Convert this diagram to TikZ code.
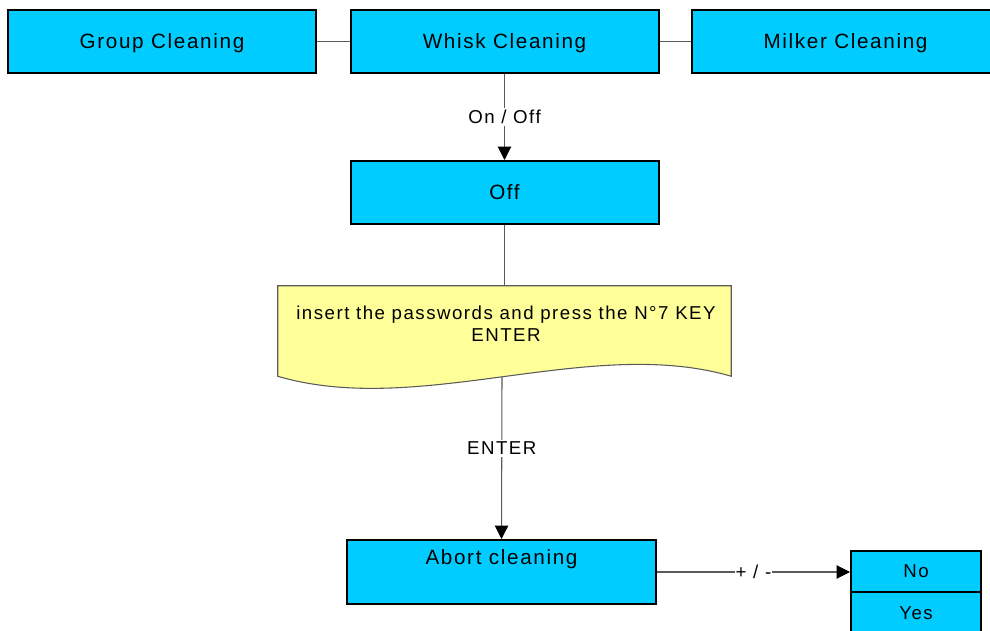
\documentclass[tikz,border=0pt]{standalone}
\usepackage{fontspec}
\setmainfont{Liberation Sans}[LetterSpace=8]
\usepackage{tikz}
\usetikzlibrary{arrows.meta}
\definecolor{ciano}{HTML}{00CCFF}
\definecolor{giallo}{HTML}{FFFF99}
\definecolor{linea}{HTML}{5A5A5A}

\tikzset{
  box/.style={draw=black, line width=1.5pt, fill=ciano, minimum width=231pt,
    minimum height=47.25pt, font=\fontsize{15.5}{18}\selectfont, inner sep=0pt,
    text depth=0pt},
  small/.style={draw=black, line width=1.5pt, fill=ciano, minimum width=97.5pt,
    minimum height=31pt, font=\fontsize{14}{16}\selectfont, inner sep=0pt,
    text depth=0pt},
  conn/.style={draw=linea, line width=0.8pt},
  arr/.style={conn, -{Triangle[length=10pt, width=10pt, color=black]}},
  lbl/.style={fill=white, inner sep=1.5pt, font=\fontsize{14}{16}\selectfont}
}

\begin{document}
\begin{tikzpicture}[x=0.75pt, y=-0.75pt]
  \useasboundingbox (0,0) rectangle (990,631);

  % Top row
  \node[box] (group)  at (162,41.5)   {Group Cleaning};
  \node[box] (whisk)  at (504.5,41.5) {Whisk Cleaning};
  \node[box] (milker) at (845.5,41.5) {Milker Cleaning};
  \draw[conn] (group.east) -- (whisk.west);
  \draw[conn] (whisk.east) -- (milker.west);

  % Off state
  \node[box] (off) at (504.5,192.5) {Off};
  \draw[arr] (whisk.south) -- node[lbl] {On / Off} (off.north);

  % Password document
  \node[minimum width=339.75pt, minimum height=67.5pt, inner sep=0pt] (doc) at (504.5,331) {};
  \draw[draw=linea, line width=0.8pt, fill=giallo]
    (doc.south west) -- (doc.north west) -- (doc.north east) -- (doc.south east)
    .. controls (590,335) and (420,418) .. (doc.south west) -- cycle;
  \node[font=\fontsize{14}{16.5}\selectfont, align=center, anchor=north] (doctxt)
    at (506,301) {insert the passwords and press the N°7 KEY\\ENTER};
  \coordinate (docb) at (502,377);
  \draw[conn] (off.south) -- (doc.north);

  % Abort cleaning
  \node[box, minimum width=231.75pt, minimum height=48pt, anchor=north] (abort) at (501.5,539) {};
  \node[font=\fontsize{15.5}{18}\selectfont] (aborttxt) at (501.5,559) {Abort cleaning};
  \draw[arr] (docb) -- node[lbl, pos=0.44] {ENTER} (abort.north);

  % Choice No / Yes
  \node[small] (no)  at (916,571.5) {No};
  \node[small] (yes) at (916,613)   {Yes};
  \draw[arr] (abort.east) -- node[lbl, inner sep=0.5pt] {+ / -} (abort.east -| no.west);
\end{tikzpicture}
\end{document}
